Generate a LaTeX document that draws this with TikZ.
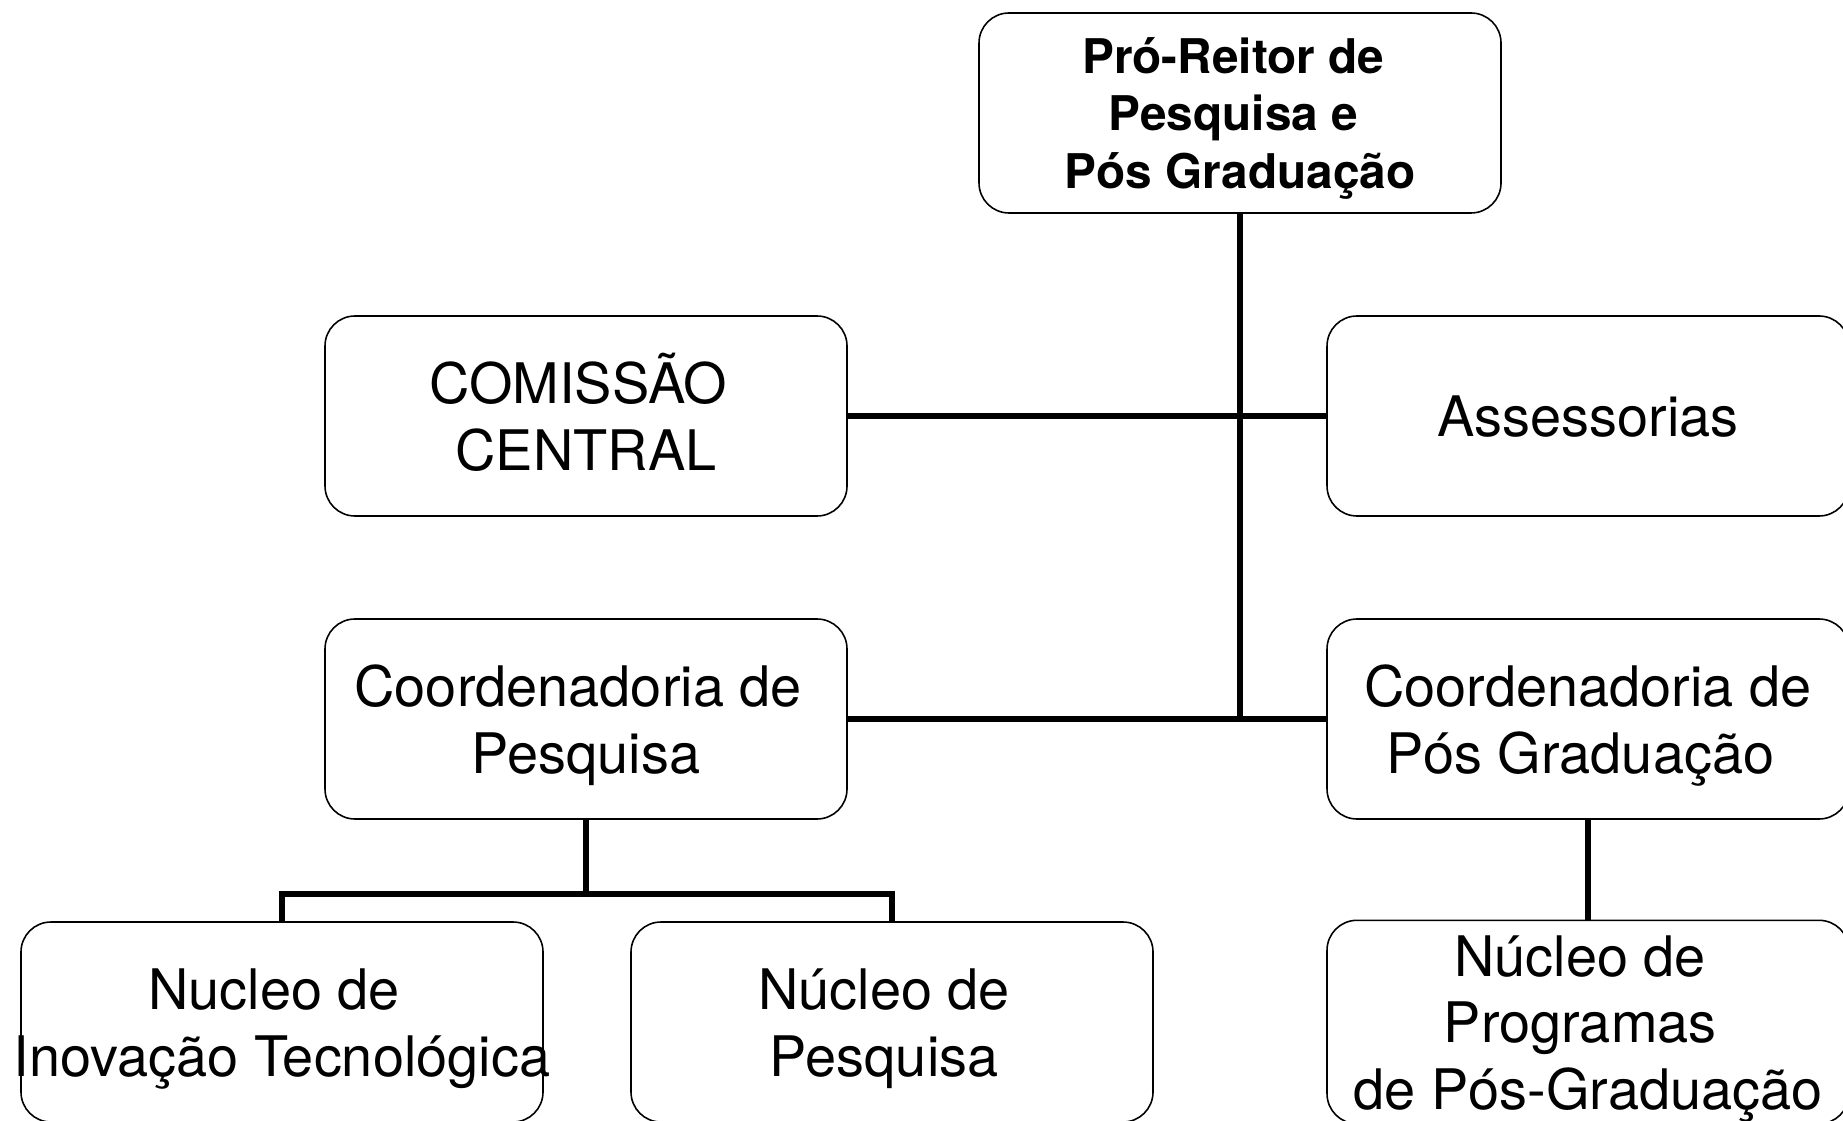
\documentclass[tikz,border=0pt]{standalone}
\usepackage{fontspec}
\setmainfont{TeX Gyre Heros}
\newcommand\sobe{\rule{0pt}{1em}}
\newcommand\desce{\rule[-0.25em]{0pt}{0pt}}
\newcommand\esp{\kern0.28em}
\begin{document}
\begin{tikzpicture}[
        caixa/.style={draw,line width=0.45pt,rounded corners=0.3cm,minimum width=5.22cm,
          minimum height=2cm,inner sep=0pt,align=center,font=\fontsize{15.9}{19}\selectfont},
        ligacao/.style={line width=1.6pt}]
        \useasboundingbox (0,0) rectangle (18.43,-11.21);
        \node[caixa,font=\fontsize{13.6}{16.4}\selectfont\bfseries] (reitor) at (12.40,-1.13)
          {\sobe Pró-Reitor de\esp\\Pesquisa e\esp\\Pós Graduação\desce};
        \node[caixa] (comissao) at (5.86,-4.16) {\sobe COMISSÃO\esp\\CENTRAL\desce};
        \node[caixa] (assessorias) at (15.88,-4.16) {\sobe Assessorias\desce};
        \node[caixa] (coordpesq) at (5.86,-7.19) {\sobe Coordenadoria de\esp\\Pesquisa\desce};
        \node[caixa] (coordpos) at (15.88,-7.19) {\sobe Coordenadoria de\\Pós Graduação\esp\desce};
        \node[caixa] (nucinov) at (2.82,-10.22)
          {\sobe Nucleo de\esp\\\makebox[0pt]{Inovação Tecnológica}\desce};
        \node[caixa] (nucpesq) at (8.92,-10.22) {\sobe Núcleo de\esp\\Pesquisa\esp\desce};
        \node[caixa] (nucprog) at (15.88,-10.22)
          {\sobe Núcleo de\esp\\Programas\esp\\de Pós-Graduação\desce};
        \draw[ligacao] (reitor.south)--(reitor.south |- coordpesq.east);
        \draw[ligacao] (comissao)--(assessorias);
        \draw[ligacao] (coordpesq)--(coordpos);
        \draw[ligacao] (coordpesq.south)--++(0,-0.74) coordinate (bifurca);
        \draw[ligacao] (nucinov.north) |- (bifurca) -| (nucpesq.north);
        \draw[ligacao] (coordpos)--(nucprog);
    \end{tikzpicture}
\end{document}
